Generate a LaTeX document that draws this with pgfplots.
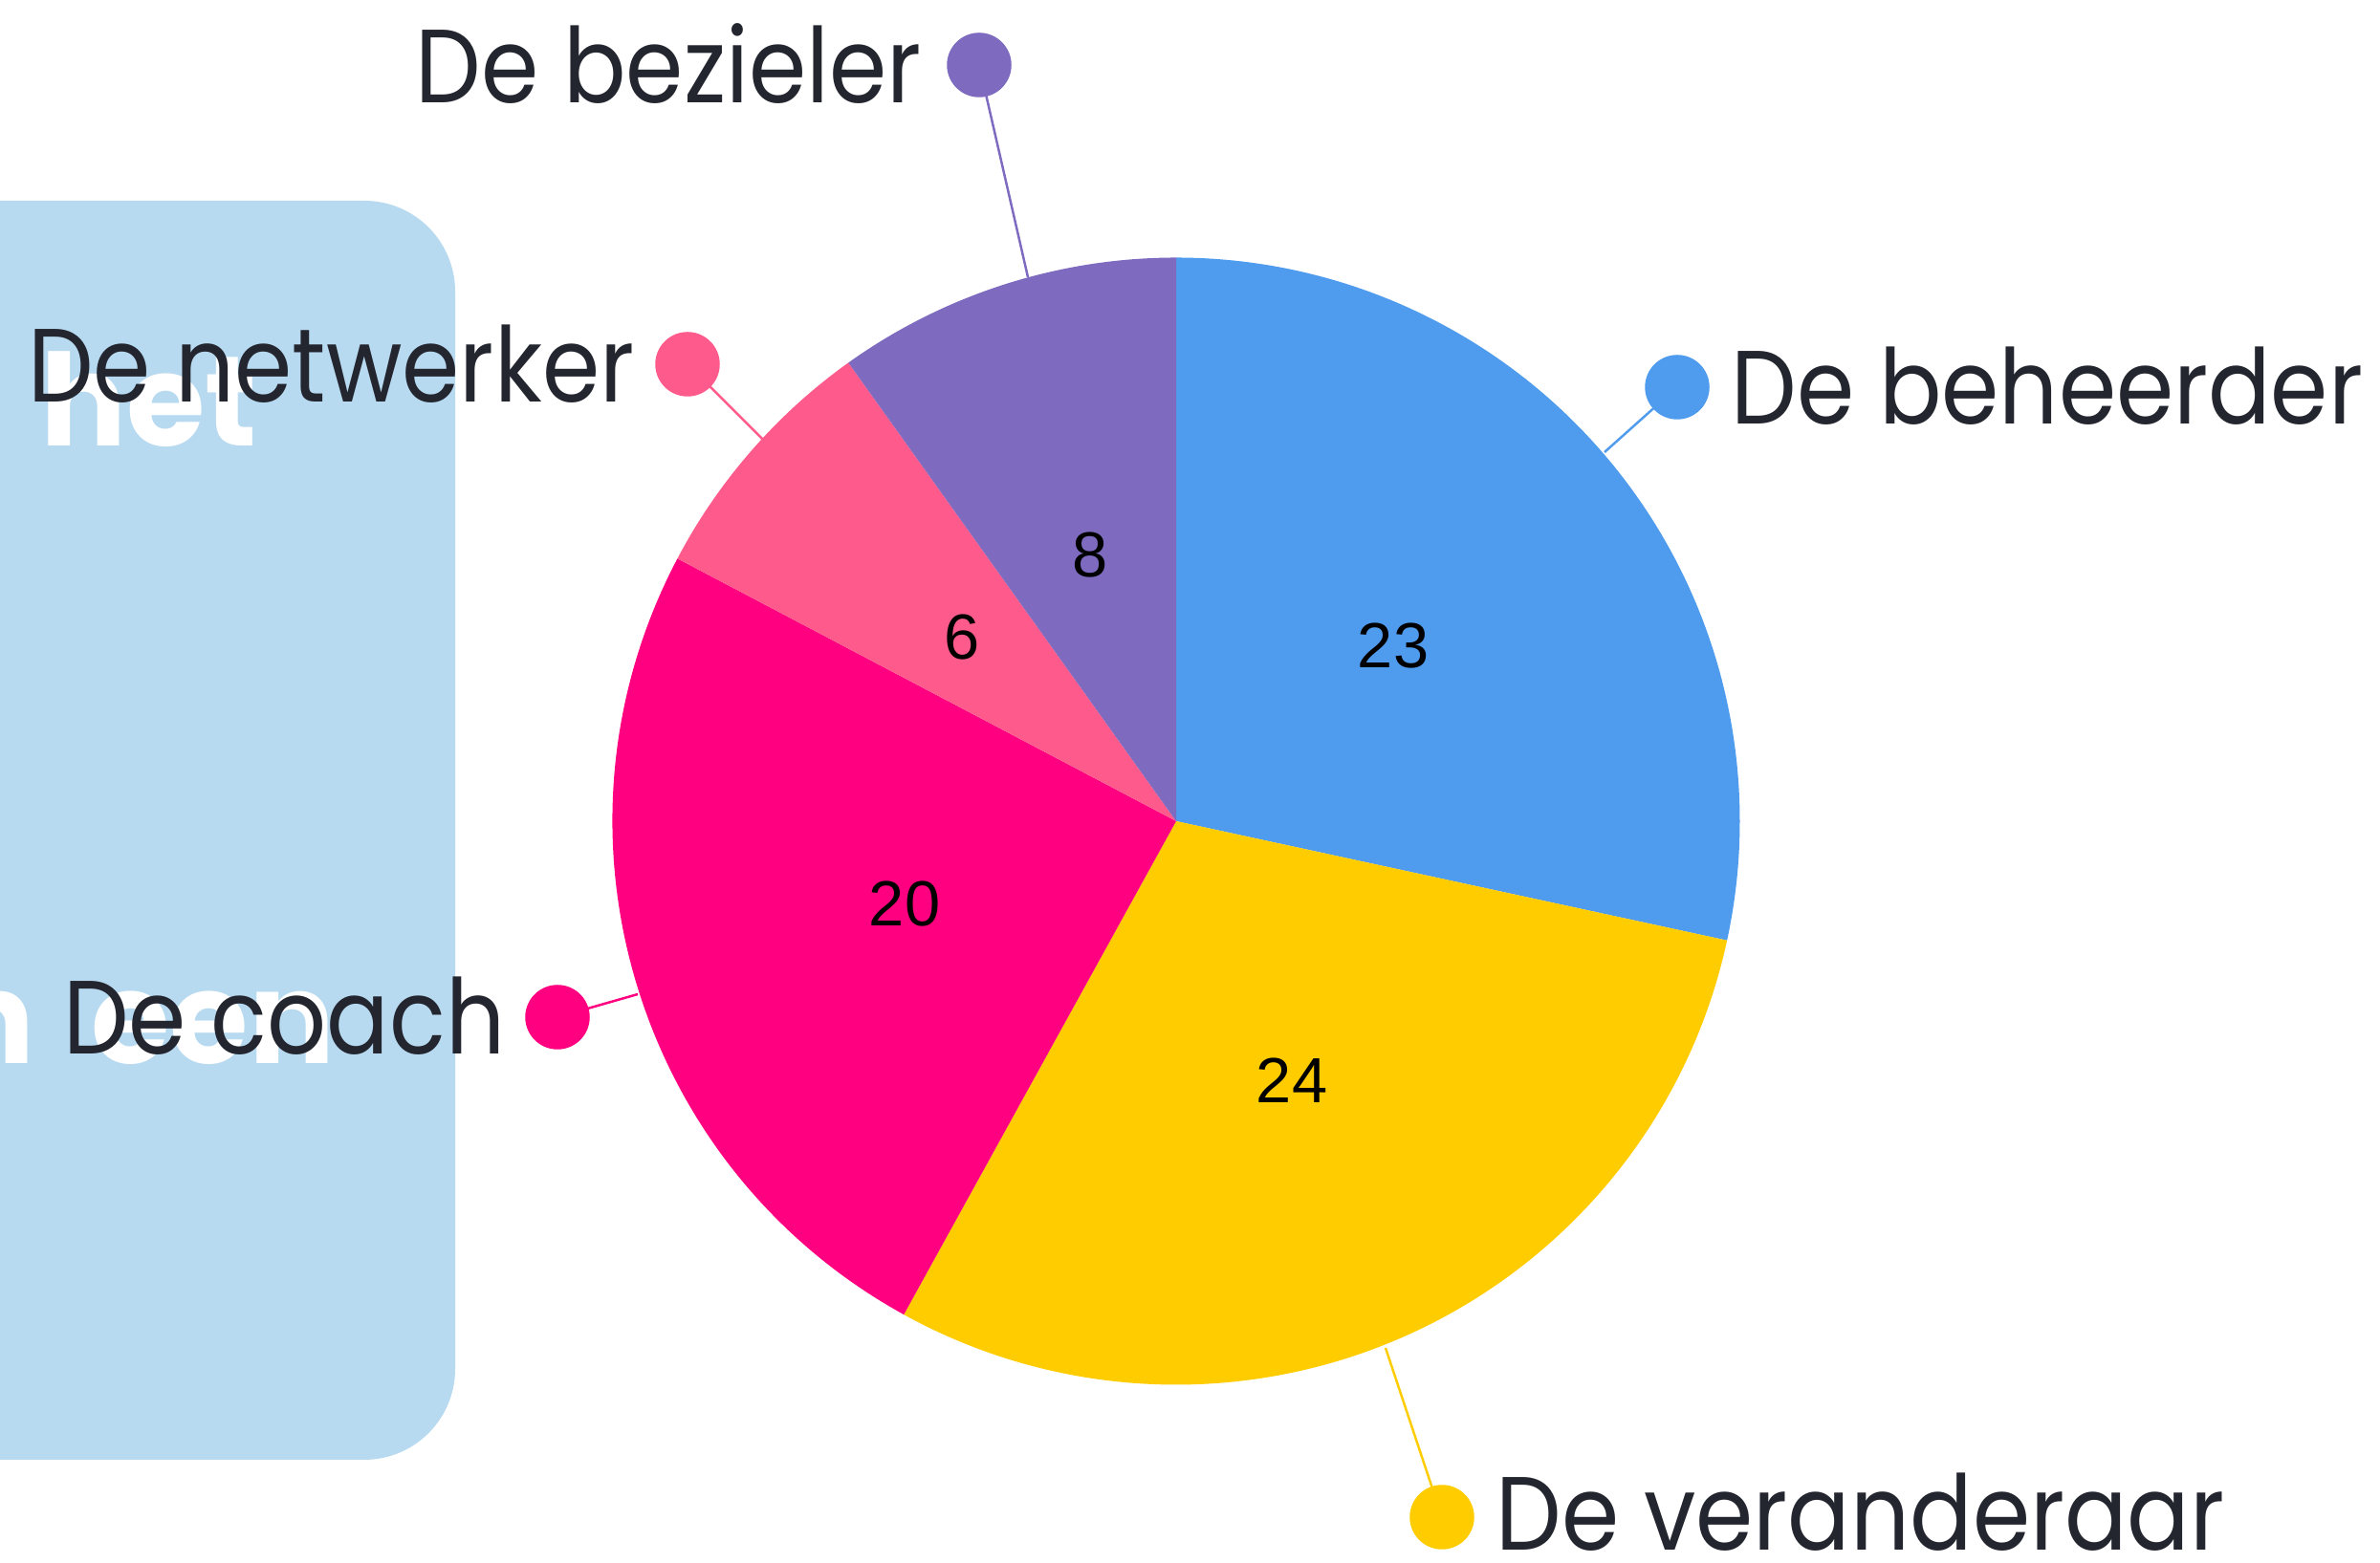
\documentclass[border=0pt]{standalone}
\usepackage{fontspec}
\setmainfont{Poppins}
\newfontfamily\labfont[FakeStretch=0.89]{Poppins}
\newfontfamily\numfont{Liberation Sans}
\usepackage{pgfplots}
\pgfplotsset{compat=1.18}
\definecolor{cbeh}{HTML}{4F9BEE}
\definecolor{cver}{HTML}{FFCC00}
\definecolor{ccoa}{HTML}{FF0080}
\definecolor{cnet}{HTML}{FF5A8C}
\definecolor{cbez}{HTML}{7E6BC0}
\definecolor{ctxt}{HTML}{23252F}
\definecolor{cbox}{HTML}{B7DAF0}
\begin{document}
\begin{tikzpicture}
\path[use as bounding box] (0,0) rectangle (24.89cm,16.35cm);
\clip (0,0) rectangle (24.89cm,16.35cm);
\begin{axis}[
  at={(0,0)}, anchor=south west,
  scale only axis, width=24.89cm, height=16.35cm,
  xmin=0, xmax=2489, ymin=0, ymax=1635,
  hide axis, clip=false,
]
% background panel
\fill[cbox, rounded corners=0.95cm] (axis cs:-200,108) rectangle (axis cs:476,1425);
\begin{scope}[every node/.style={text=white, font=\fontsize{38}{38}\selectfont\bfseries, inner sep=0pt}]
\node[anchor=base west] at (axis cs:42,1168) {het};
\node[anchor=base east] at (axis cs:37,522) {n};
\node[anchor=base west] at (axis cs:95,522) {een};
\end{scope}
% pie slices (value / colour / cumulative before)
\foreach \myval/\mycol/\mycum in {23/cbeh/0, 24/cver/23, 20/ccoa/47, 6/cnet/67, 8/cbez/73}{
  \pgfmathsetmacro\sa{90-\mycum/81*360}
  \pgfmathsetmacro\ea{90-(\mycum+\myval)/81*360}
  \edef\temp{\noexpand\fill[\mycol] (axis cs:1230,776) -- ++(\sa:5.895cm) arc[start angle=\sa, end angle=\ea, radius=5.895cm] -- cycle;}
  \temp
}
% leader lines
\addplot[cbeh, line width=0.7pt] coordinates {(1678,1162) (1754,1230)};
\addplot[cver, line width=0.7pt] coordinates {(1449,225) (1508,48)};
\addplot[ccoa, line width=0.7pt] coordinates {(667,595) (583,571)};
\addplot[cnet, line width=0.7pt] coordinates {(798,1175) (719,1254)};
\addplot[cbez, line width=0.7pt] coordinates {(1075,1345) (1024,1567)};
% dots
\addplot[only marks, mark=*, mark size=9.4pt, cbeh] coordinates {(1754,1230)};
\addplot[only marks, mark=*, mark size=9.4pt, cver] coordinates {(1508,48)};
\addplot[only marks, mark=*, mark size=9.4pt, ccoa] coordinates {(583,571)};
\addplot[only marks, mark=*, mark size=9.4pt, cnet] coordinates {(719,1254)};
\addplot[only marks, mark=*, mark size=9.4pt, cbez] coordinates {(1024,1567)};
% value labels
\addplot[only marks, mark=none, nodes near coords, point meta=explicit symbolic,
  every node near coord/.style={anchor=center, text=black, font=\numfont\fontsize{19}{19}\selectfont}]
  table[meta=lab] {
x y lab
1457 959 23
1351 505 24
946 689 20
1006 968 6
1140 1054 8
};
% category labels
\begin{scope}[every node/.style={text=ctxt, font=\labfont\fontsize{31}{31}\selectfont, inner sep=0pt}]
\node[anchor=base east] at (axis cs:964,1527) {De bezieler};
\node[anchor=base east] at (axis cs:664,1214) {De netwerker};
\node[anchor=base west] at (axis cs:1810,1191) {De beheerder};
\node[anchor=base east] at (axis cs:529,532) {De coach};
\node[anchor=base west] at (axis cs:1564,13) {De veranderaar};
\end{scope}
\end{axis}
\end{tikzpicture}
\end{document}
